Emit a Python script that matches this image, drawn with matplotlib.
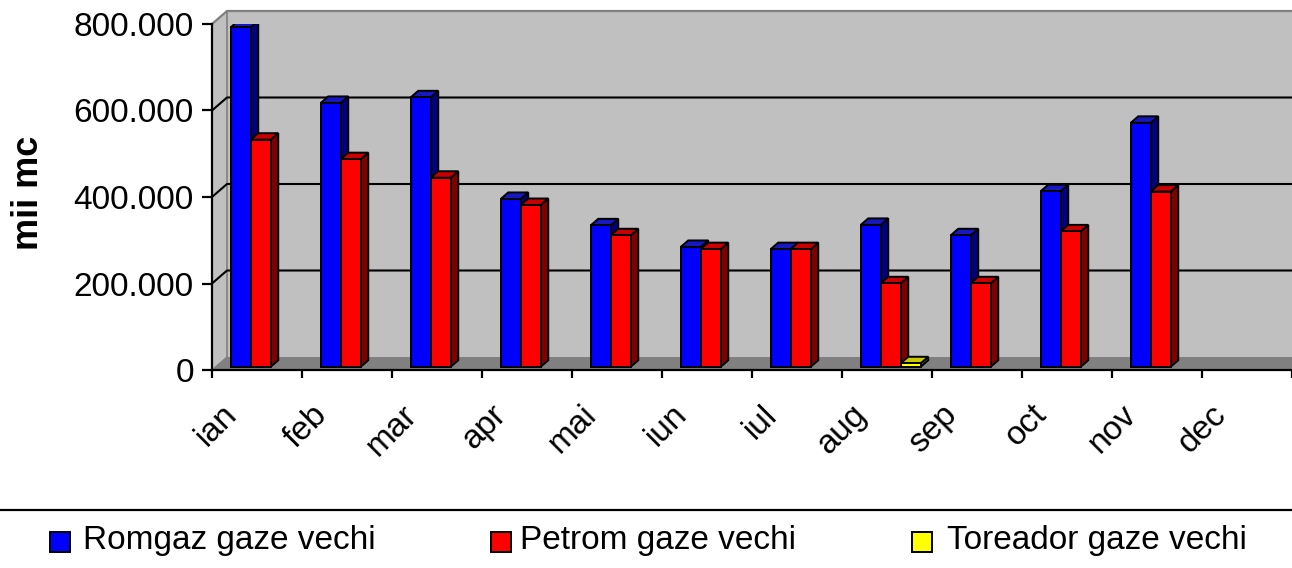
import numpy as np
import matplotlib
matplotlib.use("Agg")
import matplotlib.pyplot as plt
from matplotlib.patches import Polygon, Rectangle
from matplotlib.lines import Line2D

plt.rcParams['font.family'] = ['Liberation Sans', 'DejaVu Sans']

# ---------------- data ----------------
months = ['ian', 'feb', 'mar', 'apr', 'mai', 'iun', 'iul', 'aug', 'sep', 'oct', 'nov', 'dec']
romgaz = [785000, 610000, 623000, 388000, 327000, 277000, 272000, 328000, 304000, 406000, 564000, np.nan]
petrom = [525000, 480000, 437000, 374000, 304000, 272000, 272000, 193000, 193000, 313000, 405000, np.nan]
toreador = [np.nan, np.nan, np.nan, np.nan, np.nan, np.nan, np.nan, 8000, np.nan, np.nan, np.nan, np.nan]
series_names = ['Romgaz gaze vechi', 'Petrom gaze vechi', 'Toreador gaze vechi']
yticks = [0, 200000, 400000, 600000, 800000]
ylabel = 'mii mc'

# ---------------- style ----------------
W, H = 1292, 568
fig = plt.figure(figsize=(W / 100, H / 100), dpi=100)

ax_left, ax_right, ax_top, ax_bot = 212, 1292, 24, 370
ax = fig.add_axes([ax_left / W, 1 - ax_bot / H, (ax_right - ax_left) / W, (ax_bot - ax_top) / H])
ax.patch.set_visible(False)
n = len(months)
ymax = 800000
ax.set_xlim(0, n)
ax.set_ylim(0, ymax)

# 3D depth offsets (in data units)
dx = 15 / 90.0
dy = 13 * ymax / (ax_bot - ax_top)

wall_c = '#C0C0C0'
wall_edge = '#808080'
floor_c = '#808080'

# back wall
ax.add_patch(Polygon([(dx, dy), (n + dx, dy), (n + dx, ymax + dy), (dx, ymax + dy)],
                     closed=True, facecolor=wall_c, edgecolor='none', zorder=0.5, clip_on=False))
# side wall
ax.add_patch(Polygon([(0, 0), (dx, dy), (dx, ymax + dy), (0, ymax)],
                     closed=True, facecolor=wall_c, edgecolor='none', zorder=0.5, clip_on=False))
# floor
ax.add_patch(Polygon([(0, 0), (n, 0), (n + dx, dy), (dx, dy)],
                     closed=True, facecolor=floor_c, edgecolor='none', zorder=0.6, clip_on=False))
# wall borders (gray)
ax.plot([0, dx, n + dx], [ymax, ymax + dy, ymax + dy], color=wall_edge, lw=1.6, zorder=0.8,
        clip_on=False, solid_capstyle='butt')
ax.plot([dx, dx], [dy, ymax + dy], color=wall_edge, lw=1.2, zorder=0.8, clip_on=False)
ax.plot([0, dx], [0, dy], color=wall_edge, lw=1.0, zorder=0.8, clip_on=False)

# gridlines
for yv in yticks[1:-1]:
    ax.plot([0, dx, n + dx], [yv, yv + dy, yv + dy], color='black', lw=1.5, zorder=0.9, clip_on=False)

# ---------------- bars ----------------
w = 1.0 / 4.5          # gap width 150%
start = 0.75 * w
f = 0.25               # front face depth position
ddx, ddy = 0.5 * dx, 0.5 * dy
colors = [('#0000FF', '#1818C0', '#000080'),
          ('#FF0000', '#C80000', '#800000'),
          ('#FFFF00', '#C8C800', '#808000')]
edge_lw = 1.4

xs = np.arange(n)
for s, vals in enumerate([romgaz, petrom, toreador]):
    vals = np.array(vals, dtype=float)
    front, top_c, side_c = colors[s]
    x0 = xs + start + s * w + f * dx
    base = f * dy
    mask = ~np.isnan(vals)
    zb = 2 + s
    ax.bar(x0[mask], vals[mask], width=w, bottom=base, align='edge', color=front,
           edgecolor='black', linewidth=edge_lw, zorder=zb + 0.2)
    for xi, v in zip(x0[mask], vals[mask]):
        t = base + v
        x1 = xi + w
        ax.add_patch(Polygon([(x1, base), (x1 + ddx, base + ddy), (x1 + ddx, t + ddy), (x1, t)],
                             closed=True, facecolor=side_c, edgecolor='black', lw=edge_lw,
                             zorder=zb + 0.1))
        ax.add_patch(Polygon([(xi, t), (xi + ddx, t + ddy), (x1 + ddx, t + ddy), (x1, t)],
                             closed=True, facecolor=top_c, edgecolor='black', lw=edge_lw,
                             zorder=zb + 0.1))

# ---------------- axes ----------------
for sp in ['top', 'right']:
    ax.spines[sp].set_visible(False)
ax.spines['left'].set_linewidth(1.6)
ax.spines['bottom'].set_linewidth(1.6)
ax.spines['left'].set_zorder(10)
ax.spines['bottom'].set_zorder(10)
ax.set_yticks(yticks)
ax.set_yticklabels([f"{v:,.0f}".replace(",", ".") for v in yticks], fontsize=24)
ax.tick_params(axis='y', length=7, width=1.6, pad=6, direction='out')
ax.set_xticks(np.arange(n + 1))
ax.set_xticklabels([])
ax.tick_params(axis='x', length=6, width=1.6, direction='out')

for i, m in enumerate(months):
    ax.annotate(m, xy=(i + 0.5, 0), xytext=(-25, -40), textcoords='offset pixels',
                rotation=45, rotation_mode='anchor', ha='right', va='center',
                fontsize=24, annotation_clip=False)

fig.text(28 / W, 1 - 193 / H, ylabel, rotation=90, fontsize=26, fontweight='bold',
         ha='center', va='center')

# ---------------- legend ----------------
fig.add_artist(Line2D([0, 1], [1 - 510 / H, 1 - 510 / H], color='black', lw=1.6,
                      transform=fig.transFigure))
box_x = [50, 491, 912]
text_x = [83, 520, 947]
for i, name in enumerate(series_names):
    fig.add_artist(Rectangle((box_x[i] / W, 1 - 552 / H), 20 / W, 20 / H,
                             facecolor=colors[i][0], edgecolor='black', lw=1.4,
                             transform=fig.transFigure))
    fig.text(text_x[i] / W, 1 - 541 / H, name, fontsize=24, ha='left', va='center')

fig.savefig('out.png', dpi=100)
